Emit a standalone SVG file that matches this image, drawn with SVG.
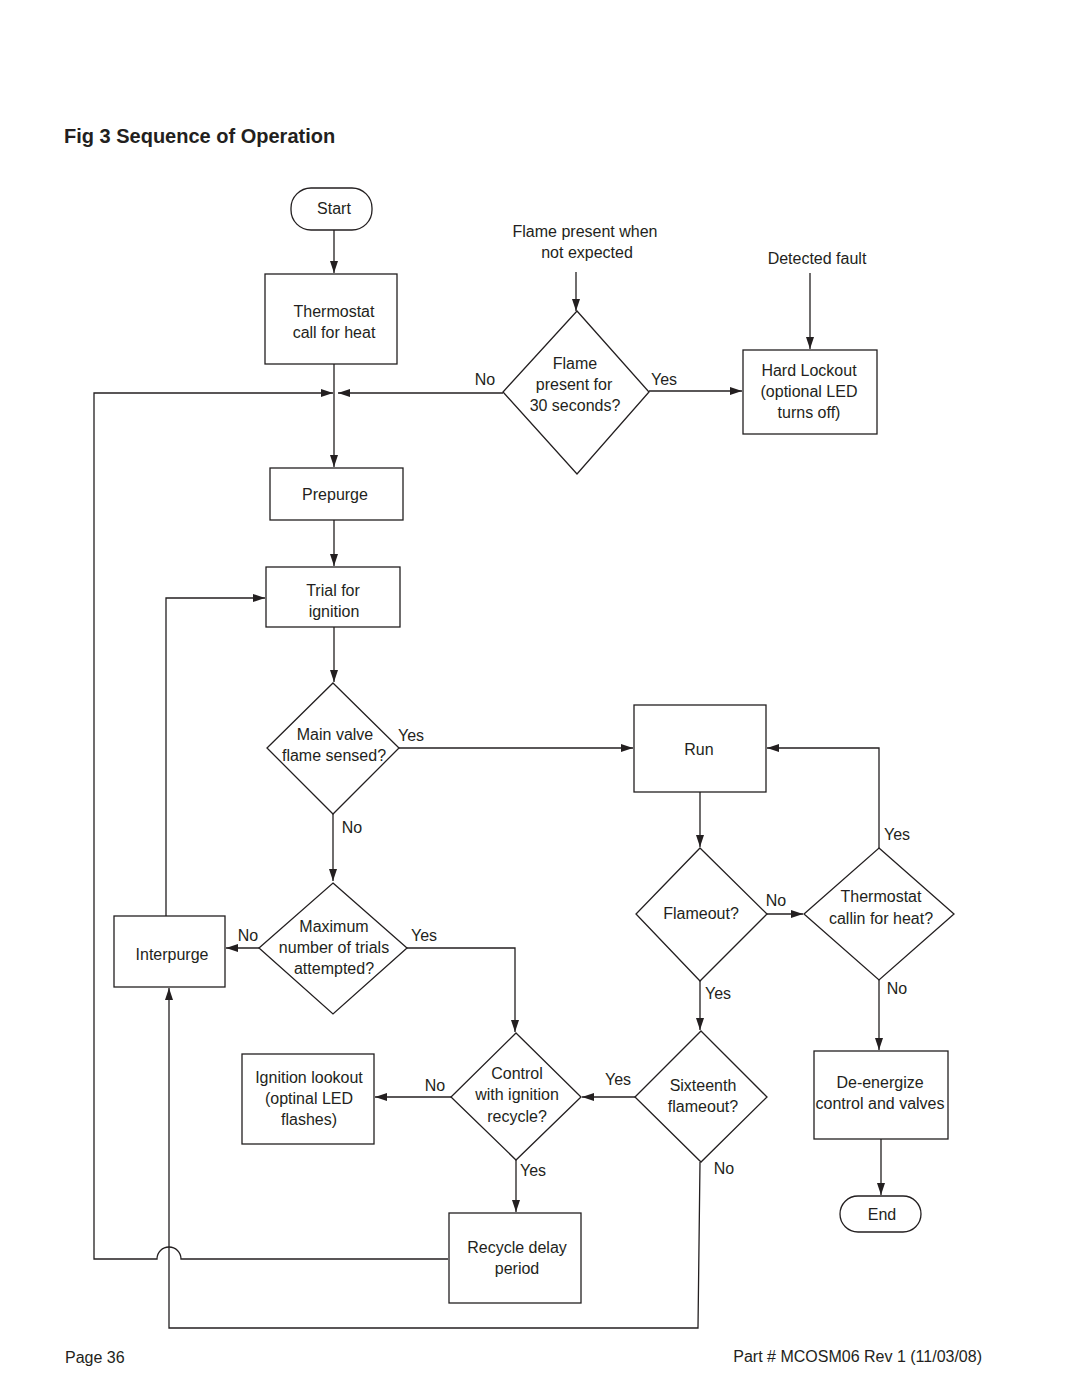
<svg xmlns="http://www.w3.org/2000/svg" width="1080" height="1397" viewBox="0 0 1080 1397">
<style>
.n{fill:#fff;stroke:#231f20;stroke-width:1.3}
.c{fill:none;stroke:#231f20;stroke-width:1.3}
text{font-family:"Liberation Sans",Arial,sans-serif;font-size:16px;fill:#231f20}
.m{text-anchor:middle}
.t{font-weight:bold;font-size:20px}
</style>
<defs>
<marker id="a" markerUnits="userSpaceOnUse" markerWidth="14" markerHeight="10" refX="12" refY="4" orient="auto"><path d="M0,0 L12,4 L0,8 z" fill="#231f20"/></marker>
</defs>
<rect width="1080" height="1397" fill="#fff"/>
<text class="t" x="64" y="143">Fig 3 Sequence of Operation</text>

<g id="connectors">
<path class="c" d="M334,230 V273" marker-end="url(#a)"/>
<path class="c" d="M334,364 V467" marker-end="url(#a)"/>
<path class="c" d="M448,1259 H181 A12,12 0 0 0 157,1259 H94 V393 H333" marker-end="url(#a)"/>
<path class="c" d="M503,393 H338" marker-end="url(#a)"/>
<path class="c" d="M576,272 V311" marker-end="url(#a)"/>
<path class="c" d="M649,391 H742" marker-end="url(#a)"/>
<path class="c" d="M810,273 V349" marker-end="url(#a)"/>
<path class="c" d="M334,520 V566" marker-end="url(#a)"/>
<path class="c" d="M334,627 V682" marker-end="url(#a)"/>
<path class="c" d="M399,748 H633" marker-end="url(#a)"/>
<path class="c" d="M333,814 V881" marker-end="url(#a)"/>
<path class="c" d="M259,948 H226" marker-end="url(#a)"/>
<path class="c" d="M166,916 V598 H265" marker-end="url(#a)"/>
<path class="c" d="M407,948 H515 V1032" marker-end="url(#a)"/>
<path class="c" d="M451,1097 H375" marker-end="url(#a)"/>
<path class="c" d="M516,1160 V1212" marker-end="url(#a)"/>
<path class="c" d="M635,1097 H582" marker-end="url(#a)"/>
<path class="c" d="M700,1162 L698,1328 H169 V988" marker-end="url(#a)"/>
<path class="c" d="M700,792 V847" marker-end="url(#a)"/>
<path class="c" d="M700,981 V1030" marker-end="url(#a)"/>
<path class="c" d="M767,914 H803" marker-end="url(#a)"/>
<path class="c" d="M879,848 V748 H767" marker-end="url(#a)"/>
<path class="c" d="M879,980 V1050" marker-end="url(#a)"/>
<path class="c" d="M881,1139 V1195" marker-end="url(#a)"/>
</g>

<g id="labels">
<text class="m" x="585" y="237">Flame present when</text>
<text class="m" x="587" y="258">not expected</text>
<text class="m" x="817" y="264">Detected fault</text>
<text class="m" x="485" y="385">No</text>
<text class="m" x="664" y="385">Yes</text>
<text class="m" x="411" y="741">Yes</text>
<text class="m" x="352" y="833">No</text>
<text class="m" x="248" y="941">No</text>
<text class="m" x="424" y="941">Yes</text>
<text class="m" x="435" y="1091">No</text>
<text class="m" x="618" y="1085">Yes</text>
<text class="m" x="533" y="1176">Yes</text>
<text class="m" x="724" y="1174">No</text>
<text class="m" x="718" y="999">Yes</text>
<text class="m" x="776" y="906">No</text>
<text class="m" x="897" y="840">Yes</text>
<text class="m" x="897" y="994">No</text>
</g>

<g id="start"><rect class="n" x="291" y="188" width="81" height="42" rx="20"/><text class="m" x="334" y="214">Start</text></g>
<g id="thermostat"><rect class="n" x="265" y="274" width="132" height="90"/><text class="m" x="334" y="317">Thermostat</text><text class="m" x="334" y="338">call for heat</text></g>
<g id="flame30"><path class="n" d="M577,311 L649,392 L577,474 L503,392 z"/><text class="m" x="575" y="369">Flame</text><text class="m" x="574" y="390">present for</text><text class="m" x="575" y="411">30 seconds?</text></g>
<g id="hardlockout"><rect class="n" x="743" y="350" width="134" height="84"/><text class="m" x="809" y="376">Hard Lockout</text><text class="m" x="809" y="397">(optional LED</text><text class="m" x="809" y="418">turns off)</text></g>
<g id="prepurge"><rect class="n" x="270" y="468" width="133" height="52"/><text class="m" x="335" y="500">Prepurge</text></g>
<g id="trial"><rect class="n" x="266" y="567" width="134" height="60"/><text class="m" x="333" y="596">Trial for</text><text class="m" x="334" y="617">ignition</text></g>
<g id="mainvalve"><path class="n" d="M333,683 L399,748 L333,814 L267,748 z"/><text class="m" x="335" y="740">Main valve</text><text class="m" x="334" y="761">flame sensed?</text></g>
<g id="maxtrials"><path class="n" d="M333,883 L407,948 L333,1014 L259,948 z"/><text class="m" x="334" y="932">Maximum</text><text class="m" x="334" y="953">number of trials</text><text class="m" x="334" y="974">attempted?</text></g>
<g id="interpurge"><rect class="n" x="114" y="916" width="111" height="71"/><text class="m" x="172" y="960">Interpurge</text></g>
<g id="run"><rect class="n" x="634" y="705" width="132" height="87"/><text class="m" x="699" y="755">Run</text></g>
<g id="flameout"><path class="n" d="M700,848 L767,914 L700,981 L636,914 z"/><text class="m" x="701" y="919">Flameout?</text></g>
<g id="thermcall"><path class="n" d="M879,848 L954,914 L879,980 L804,914 z"/><text class="m" x="881" y="902">Thermostat</text><text class="m" x="881" y="924">callin for heat?</text></g>
<g id="control"><path class="n" d="M516,1033 L581,1097 L516,1160 L451,1097 z"/><text class="m" x="517" y="1079">Control</text><text class="m" x="517" y="1100">with ignition</text><text class="m" x="517" y="1122">recycle?</text></g>
<g id="ignitionlockout"><rect class="n" x="242" y="1054" width="132" height="90"/><text class="m" x="309" y="1083">Ignition lookout</text><text class="m" x="309" y="1104">(optinal LED</text><text class="m" x="309" y="1125">flashes)</text></g>
<g id="sixteenth"><path class="n" d="M701,1031 L767,1097 L701,1162 L635,1097 z"/><text class="m" x="703" y="1091">Sixteenth</text><text class="m" x="703" y="1112">flameout?</text></g>
<g id="recycle"><rect class="n" x="449" y="1213" width="132" height="90"/><text class="m" x="517" y="1253">Recycle delay</text><text class="m" x="517" y="1274">period</text></g>
<g id="deenergize"><rect class="n" x="814" y="1051" width="134" height="88"/><text class="m" x="880" y="1088">De-energize</text><text class="m" x="880" y="1109">control and valves</text></g>
<g id="end"><rect class="n" x="840" y="1196" width="81" height="36" rx="18"/><text class="m" x="882" y="1220">End</text></g>

<text x="65" y="1363">Page 36</text>
<text x="982" y="1362" text-anchor="end">Part # MCOSM06 Rev 1 (11/03/08)</text>
</svg>
